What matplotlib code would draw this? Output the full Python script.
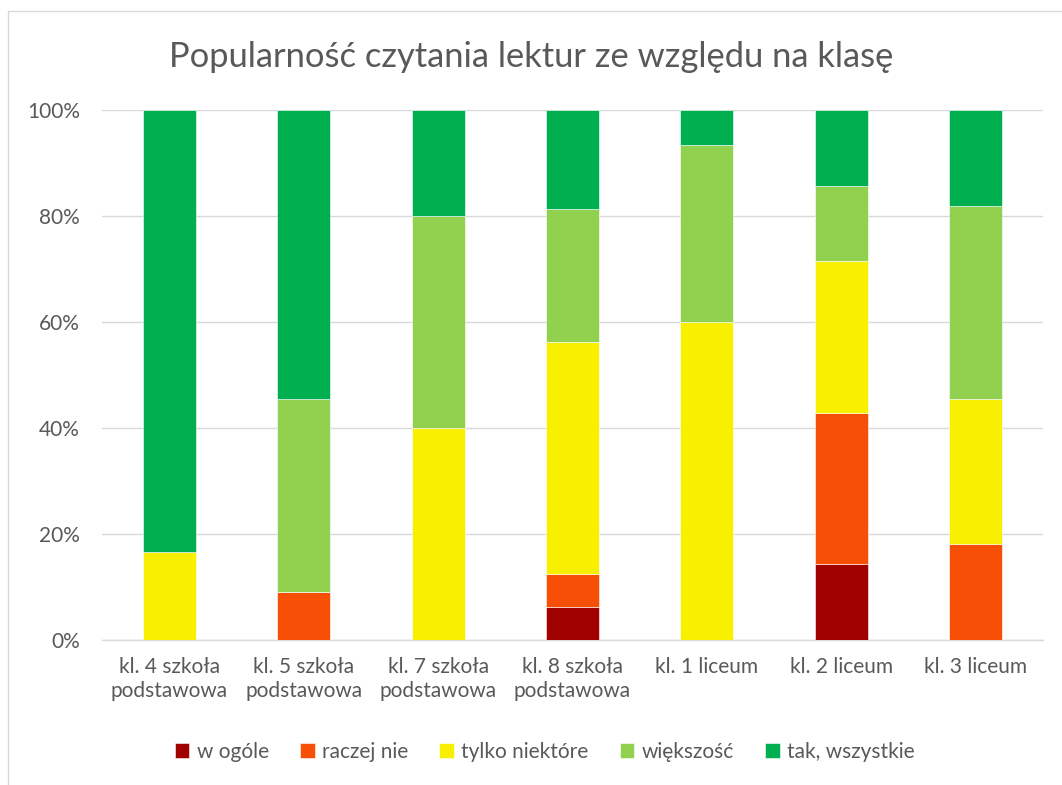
import matplotlib.pyplot as plt
import matplotlib.patches as mpatches
import numpy as np

# Dane (udział procentowy w każdej klasie)
klasy = ['kl. 4 szkoła\npodstawowa', 'kl. 5 szkoła\npodstawowa', 'kl. 7 szkoła\npodstawowa',
         'kl. 8 szkoła\npodstawowa', 'kl. 1 liceum', 'kl. 2 liceum', 'kl. 3 liceum']
w_ogole = [0, 0, 0, 6.25, 0, 14.29, 0]
raczej_nie = [0, 9.09, 0, 6.25, 0, 28.57, 18.18]
tylko_niektore = [16.67, 0, 40.0, 43.75, 60.0, 28.57, 27.27]
wiekszosc = [0, 36.36, 40.0, 25.0, 33.33, 14.29, 36.36]
tak_wszystkie = [83.33, 54.55, 20.0, 18.75, 6.67, 14.29, 18.18]

serie = ['w ogóle', 'raczej nie', 'tylko niektóre', 'większość', 'tak, wszystkie']
kolory = ['#A00000', '#F84F07', '#F9EF00', '#92D050', '#00B050']

plt.rcParams['font.family'] = ['Lato', 'DejaVu Sans']
szary = '#595959'

fig = plt.figure(figsize=(10.62, 7.85), dpi=100)
W, H = 1062, 785
ax = fig.add_axes([102 / W, 1 - 640 / H, (1043 - 102) / W, (640 - 110) / H])

# ramka wykresu (jak w Excelu)
fig.patches.append(mpatches.Rectangle((8 / W, -0.05), 1.1, 1 - 11 / H + 0.05,
                                      transform=fig.transFigure, fill=False,
                                      edgecolor='#D9D9D9', linewidth=1))

x = np.arange(len(klasy))
dol = np.zeros(len(klasy))
for nazwa, wart, kol in zip(serie, [w_ogole, raczej_nie, tylko_niektore, wiekszosc, tak_wszystkie], kolory):
    wart = np.array(wart, dtype=float)
    ax.bar(x, wart / 100, bottom=dol, width=0.394, color=kol, label=nazwa,
           edgecolor='white', linewidth=0.4, zorder=3)
    dol += wart / 100

ax.set_xlim(-0.5, len(klasy) - 0.5)
ax.set_ylim(0, 1)
ax.set_yticks(np.arange(0, 1.01, 0.2))
ax.set_yticklabels([f'{int(round(v*100))}%' for v in np.arange(0, 1.01, 0.2)])
ax.yaxis.grid(True, color='#D9D9D9', linewidth=1, zorder=0)
for s in ['top', 'right', 'left']:
    ax.spines[s].set_visible(False)
ax.spines['bottom'].set_color('#D9D9D9')
ax.spines['bottom'].set_linewidth(1)
ax.set_xticks(x)
ax.set_xticklabels(klasy, linespacing=1.25)
ax.tick_params(axis='both', length=0, labelsize=15, colors=szary)
ax.tick_params(axis='x', pad=12)
ax.tick_params(axis='y', pad=16)

fig.text(0.5, 1 - 57 / H, 'Popularność czytania lektur ze względu na klasę',
         ha='center', va='center', fontsize=24.8, color=szary)

fig.legend(loc='center', bbox_to_anchor=(0.513, 1 - 752 / H), ncol=5, frameon=False,
           fontsize=15, labelcolor=szary, handlelength=0.7, handleheight=0.7,
           handletextpad=0.35, columnspacing=1.5)

fig.savefig('out.png', dpi=100)
